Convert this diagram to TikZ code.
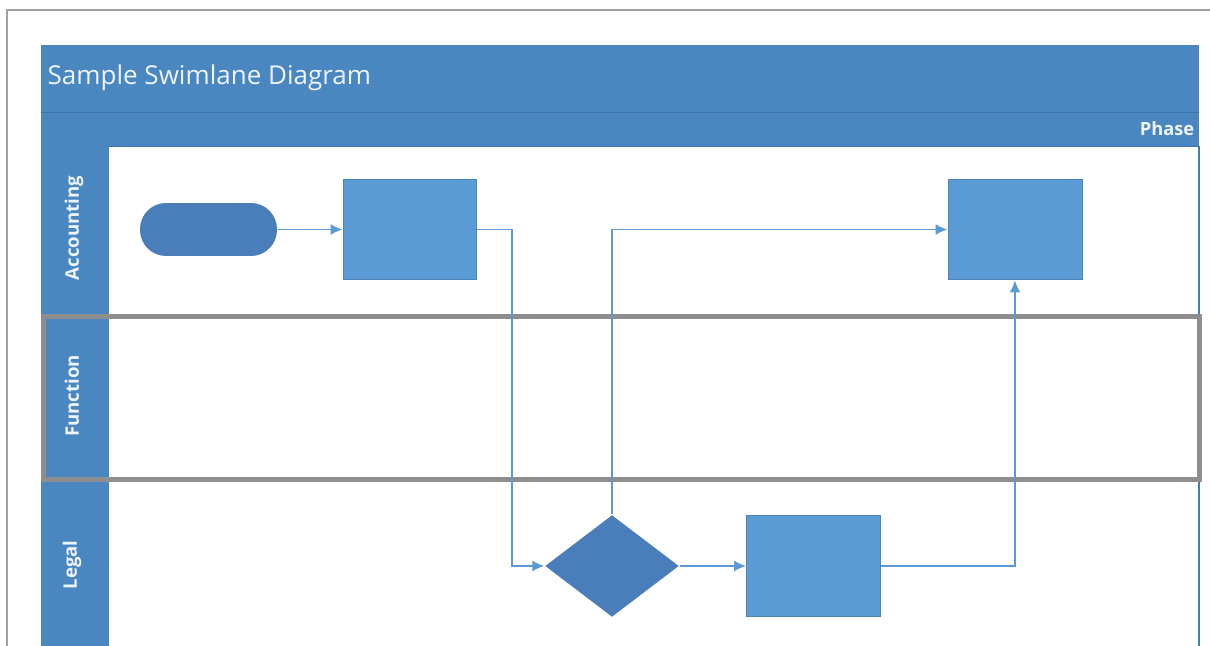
\documentclass[tikz,border=0pt]{standalone}
\usepackage{fontspec}
\setmainfont{Open Sans}
\usetikzlibrary{shapes.geometric,arrows.meta,positioning}

\definecolor{laneblue}{HTML}{4A86C0}
\definecolor{lanedark}{HTML}{3F73A8}
\definecolor{boxblue}{HTML}{5B9BD5}
\definecolor{shapeblue}{HTML}{4A7EBB}
\definecolor{flowblue}{HTML}{5B9BD5}
\definecolor{headtext}{HTML}{EEF4FB}
\definecolor{framegray}{HTML}{A0A0A0}
\definecolor{markgray}{HTML}{8E8E8E}

\tikzset{
  process/.style={rectangle, fill=boxblue, draw=boxblue!85!black, line width=0.1mm,
    minimum width=13.4mm, minimum height=10.1mm, inner sep=0pt},
  terminal/.style={rectangle, rounded corners=2.6mm, fill=shapeblue,
    minimum width=13.7mm, minimum height=5.3mm, inner sep=0pt},
  decision/.style={diamond, fill=shapeblue, minimum width=13.4mm,
    minimum height=10.2mm, inner sep=0pt},
  flow/.style={draw=flowblue, line width=0.15mm, -{Latex[length=1.2mm,width=1.1mm]}},
  lanelabel/.style={rotate=90, text=headtext, font=\fontsize{5.3pt}{7pt}\selectfont\bfseries},
}

\begin{document}
\begin{tikzpicture}[x=0.1mm, y=-0.1mm]
  \useasboundingbox (0,0) rectangle (1210,646);

  % page frame
  \draw[framegray, line width=0.15mm] (7,646) -- (7,10) -- (1210,10);

  % header and phase band
  \fill[laneblue] (41,45) rectangle (1199,146);
  \draw[lanedark, line width=0.1mm] (41,112) -- (1199,112);
  \draw[lanedark, line width=0.1mm] (41,146) -- (1199,146);
  \node (title) [anchor=base west, text=headtext, inner sep=0pt,
    font=\fontsize{7.4pt}{9pt}\selectfont] at (47,85) {Sample Swimlane Diagram};
  \node (phase) [anchor=base east, text=headtext, inner sep=0pt,
    font=\fontsize{5.2pt}{7pt}\selectfont\bfseries] at (1195,135) {Phase};

  % lane column and lane borders
  \fill[laneblue] (41,146) rectangle (109,646);
  \draw[lanedark, line width=0.1mm] (41,318) -- (109,318);
  \draw[lanedark, line width=0.1mm] (41,480) -- (109,480);
  \draw[boxblue!70, line width=0.1mm] (109,318) -- (1199,318);
  \draw[boxblue!70, line width=0.1mm] (109,480) -- (1199,480);
  \draw[boxblue!80!black, line width=0.12mm] (1199,146) -- (1199,646);

  \node (accounting) [lanelabel] at (74,228) {Accounting};
  \node (function) [lanelabel] at (72,396) {Function};
  \node (legal) [lanelabel] at (72,565) {Legal};

  % selected lane
  \draw[markgray, line width=0.45mm] (43.5,316.5) rectangle (1199.5,479.5);

  % shapes
  \node (start) [terminal] at (208.5,229.5) {};
  \node (act1) [process] at (410,229.5) {};
  \node (act2) [process] at (1015,229.5) {};
  \node (dec) [decision] at (612,566) {};
  \node (act3) [process] at (813.5,566) {};
  \coordinate (bend) at (512,229.5);

  % connectors
  \draw[flow] (start) -- (act1);
  \draw[flow] (act1.east) -- (bend) |- (dec.west);
  \draw[flow] (dec.east) -- (act3.west);
  \draw[flow] (dec.north) |- (act2.west);
  \draw[flow] (act3.east) -| (act2.south);
\end{tikzpicture}
\end{document}
